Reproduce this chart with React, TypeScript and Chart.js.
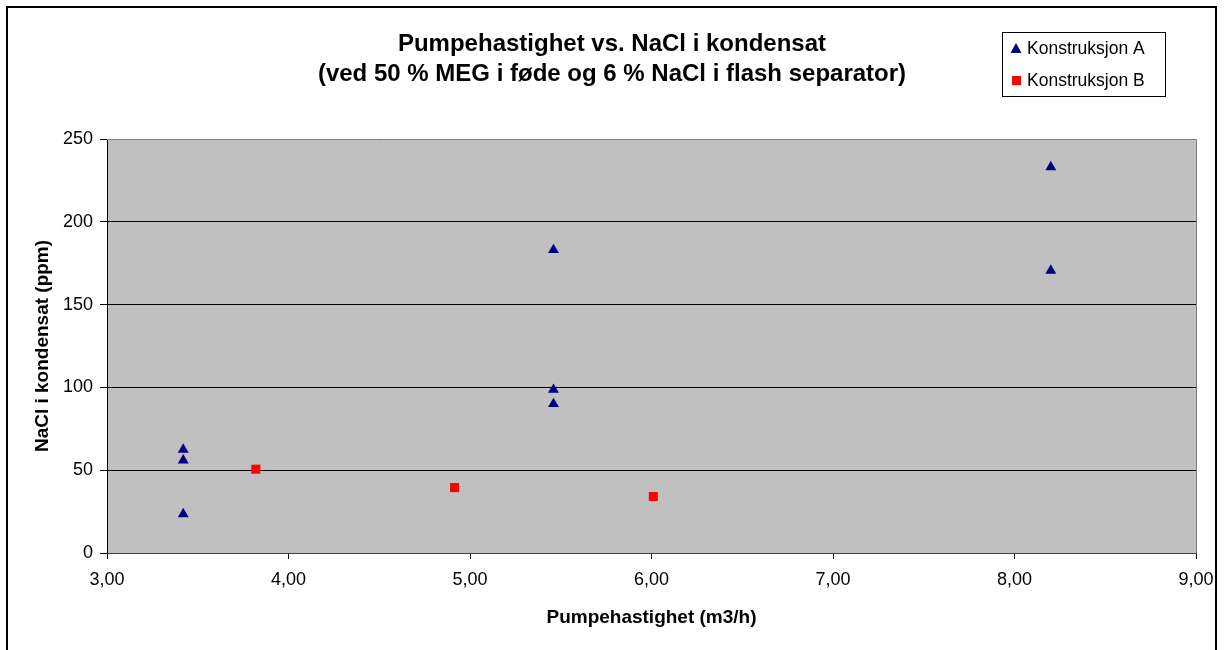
import React, { useEffect, useRef } from "react";
import { Chart, registerables } from "chart.js";

Chart.register(...registerables);

const titleLines = [
  "Pumpehastighet vs. NaCl i kondensat",
  "(ved 50 % MEG i føde og 6 % NaCl i flash separator)",
];
const xTitle = "Pumpehastighet (m3/h)";
const yTitle = "NaCl i kondensat (ppm)";

const seriesALabel = "Konstruksjon A";
const seriesAX = [3.42, 3.42, 3.42, 5.46, 5.46, 5.46, 8.2, 8.2];
const seriesAY = [62.5, 56, 23.5, 183, 98.6, 90, 233, 170.5];

const seriesBLabel = "Konstruksjon B";
const seriesBX = [3.82, 4.915, 6.01];
const seriesBY = [50.6, 39.5, 34.1];

const xMin = 3;
const xMax = 9;
const xStep = 1;
const yMin = 0;
const yMax = 250;
const yStep = 50;

const FONT = "'Liberation Sans', Arial, Helvetica, sans-serif";
const NAVY = "#000080";
const RED = "#FF0000";

const decorPlugin = {
  id: "decor",
  beforeDraw(chart: any) {
    const { ctx, chartArea, width, height } = chart;
    ctx.save();
    ctx.fillStyle = "#FFFFFF";
    ctx.fillRect(0, 0, width, height);
    ctx.fillStyle = "#C0C0C0";
    ctx.fillRect(chartArea.left, chartArea.top, chartArea.right - chartArea.left, chartArea.bottom - chartArea.top);
    ctx.restore();
  },
  beforeDatasetsDraw(chart: any) {
    const { ctx, chartArea } = chart;
    const { left, right, top, bottom } = chartArea;
    ctx.save();
    ctx.strokeStyle = "#808080";
    ctx.lineWidth = 1;
    ctx.beginPath();
    ctx.moveTo(left, top + 0.5);
    ctx.lineTo(right + 0.5, top + 0.5);
    ctx.lineTo(right + 0.5, bottom);
    ctx.stroke();
    ctx.strokeStyle = "#404040";
    ctx.beginPath();
    ctx.moveTo(left, bottom + 0.5);
    ctx.lineTo(right + 0.5, bottom + 0.5);
    ctx.stroke();
    ctx.restore();
  },
  afterDraw(chart: any) {
    const { ctx, width, height } = chart;
    ctx.save();
    // outer border (bottom edge lies outside the picture)
    ctx.strokeStyle = "#000000";
    ctx.lineWidth = 2;
    ctx.strokeRect(7, 7, width - 18, height + 20);

    // title
    ctx.fillStyle = "#000000";
    ctx.font = `bold 24px ${FONT}`;
    ctx.textAlign = "center";
    ctx.textBaseline = "middle";
    ctx.fillText(titleLines[0], 612, 44);
    ctx.fillText(titleLines[1], 612, 74);

    // legend
    const lx = 1002.5, ly = 32.5, lw = 163, lh = 64;
    ctx.fillStyle = "#FFFFFF";
    ctx.fillRect(lx, ly, lw, lh);
    ctx.strokeStyle = "#000000";
    ctx.lineWidth = 1;
    ctx.strokeRect(lx, ly, lw, lh);

    ctx.fillStyle = NAVY;
    ctx.beginPath();
    ctx.moveTo(1016, 43);
    ctx.lineTo(1021.5, 53);
    ctx.lineTo(1010.5, 53);
    ctx.closePath();
    ctx.fill();

    ctx.fillStyle = RED;
    ctx.fillRect(1012, 76, 9, 9);

    ctx.fillStyle = "#000000";
    ctx.font = `17.5px ${FONT}`;
    ctx.textAlign = "left";
    ctx.textBaseline = "middle";
    ctx.fillText(seriesALabel, 1027, 49);
    ctx.fillText(seriesBLabel, 1027, 81);
    ctx.restore();
  },
};

export default function App() {
  const ref = useRef<HTMLCanvasElement | null>(null);

  useEffect(() => {
    const canvas = ref.current;
    if (!canvas) return;
    const chart = new Chart(canvas, {
      type: "scatter",
      data: {
        datasets: [
          {
            label: seriesALabel,
            data: seriesAX.map((x, i) => ({ x, y: seriesAY[i] })),
            pointStyle: "triangle",
            pointRadius: 6.3,
            pointHoverRadius: 6.3,
            backgroundColor: NAVY,
            borderColor: NAVY,
            borderWidth: 0,
          },
          {
            label: seriesBLabel,
            data: seriesBX.map((x, i) => ({ x, y: seriesBY[i] })),
            pointStyle: "rect",
            pointRadius: 6.4,
            pointHoverRadius: 6.4,
            backgroundColor: RED,
            borderColor: RED,
            borderWidth: 0,
          },
        ],
      },
      options: {
        responsive: false,
        animation: false,
        events: [],
        layout: { padding: { top: 139, right: 31, bottom: 0, left: 0 } },
        plugins: {
          legend: { display: false },
          title: { display: false },
          tooltip: { enabled: false },
        },
        scales: {
          x: {
            type: "linear",
            min: xMin,
            max: xMax,
            afterFit: (s: any) => {
              s.height = 97;
            },
            ticks: {
              stepSize: xStep,
              color: "#000000",
              padding: 10,
              font: { family: FONT, size: 18 },
              callback: (v: any) => Number(v).toFixed(2).replace(".", ","),
            },
            grid: {
              display: true,
              drawOnChartArea: false,
              drawTicks: true,
              tickLength: 6,
              color: "#000000",
            },
            border: { display: true, color: "#404040" },
            title: {
              display: true,
              text: xTitle,
              color: "#000000",
              font: { family: FONT, size: 19, weight: "bold" },
              padding: { top: 0, bottom: 21 },
            },
          },
          y: {
            type: "linear",
            min: yMin,
            max: yMax,
            afterFit: (s: any) => {
              s.width = 107;
            },
            ticks: {
              stepSize: yStep,
              color: "#000000",
              padding: 7,
              font: { family: FONT, size: 18 },
            },
            grid: {
              display: true,
              drawOnChartArea: true,
              drawTicks: true,
              tickLength: 7,
              color: "#000000",
              lineWidth: 1,
            },
            border: { display: true, color: "#000000" },
            title: {
              display: true,
              text: yTitle,
              color: "#000000",
              font: { family: FONT, size: 19, weight: "bold" },
              padding: { top: 31, bottom: 0 },
            },
          },
        },
      },
      plugins: [decorPlugin],
    });
    return () => chart.destroy();
  }, []);

  return (
    <div style={{ position: "absolute", left: 0, top: 0, width: 1227, height: 650 }}>
      <canvas ref={ref} width={1227} height={650} style={{ display: "block", width: 1227, height: 650 }} />
    </div>
  );
}
